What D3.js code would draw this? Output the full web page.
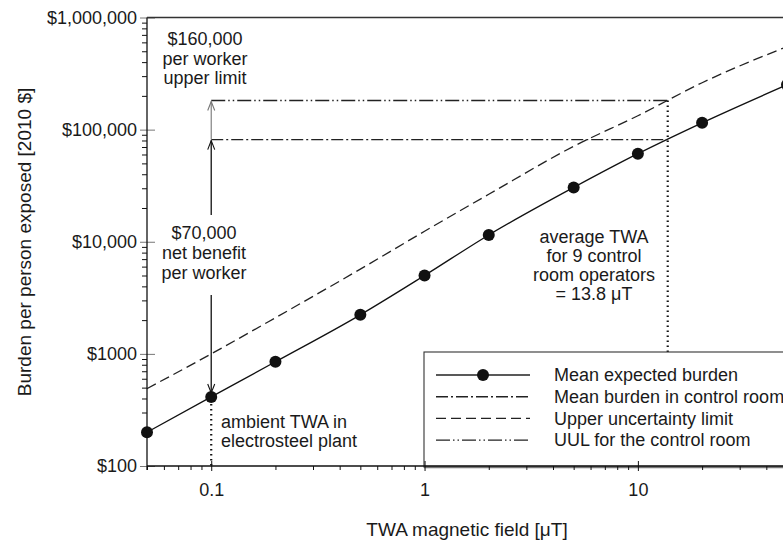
<!DOCTYPE html>
<html>
<head>
<meta charset="utf-8">
<script src="https://cdn.jsdelivr.net/npm/d3@7.9.0/dist/d3.min.js"></script>
<style>
  body { margin: 0; background: #fff; }
  svg { display: block; font-family: "Liberation Sans", Arial, sans-serif; }
  text { fill: #1a1a1a; }
</style>
</head>
<body>
<svg id="chart" width="783" height="545"></svg>
<script>
// TWA magnetic field values (uT) where the burden curves are marked
const fieldUT = [0.05, 0.1, 0.2, 0.5, 1, 2, 5, 10, 20, 50];
// mean expected burden per person exposed (2010 $)
const meanBurden = [200, 413, 850, 2230, 5000, 11500, 30500, 61000, 115000, 251000];
// upper uncertainty limit (2010 $)
const upperLimit = [490, 1000, 2100, 5700, 12400, 26500, 71000, 133000, 262000, 550000];

const ambientField = 0.1;       // ambient TWA in electrosteel plant
const controlRoomField = 13.8;  // average TWA for control room operators
const controlMean = 81500;      // mean burden in control room
const controlUUL = 182000;      // UUL for the control room

const yTickValues = [100, 1000, 10000, 100000, 1000000];
const yTickLabels = ["$100", "$1000", "$10,000", "$100,000", "$1,000,000"];
const xTickValues = [0.1, 1, 10];
const xTickLabels = ["0.1", "1", "10"];
const legendLabels = ["Mean expected burden", "Mean burden in control room",
                      "Upper uncertainty limit", "UUL for the control room"];

const svg = d3.select("#chart");
const FS = 18;

// plot frame
const plotLeft = 147, plotRight = 787, plotTop = 17.5, plotBottom = 466;
const x = d3.scaleLog().domain([0.05, 50]).range([plotLeft, plotRight]);
const y = d3.scaleLog().domain([100, 1000000]).range([plotBottom, plotTop]);

// dash styles
const dashUpper = "10,5";
const dashDot = "12,3,2,3";
const dashDotDot = "14,3,1.5,3,1.5,3";

// arrow markers
const defs = svg.append("defs");
function addMarker(id, color) {
  defs.append("marker")
    .attr("id", id)
    .attr("viewBox", "-10 -5 11 10")
    .attr("refX", 0).attr("refY", 0)
    .attr("markerWidth", 11).attr("markerHeight", 10)
    .attr("markerUnits", "userSpaceOnUse")
    .attr("orient", "auto-start-reverse")
    .append("path")
    .attr("d", "M-9,-3.5 L0,0 L-9,3.5")
    .attr("fill", "none")
    .attr("stroke", color)
    .attr("stroke-width", 1.1);
}
addMarker("arrowBlack", "#111");
addMarker("arrowGray", "#777");

const lineGen = d3.line()
  .x(d => x(d[0]))
  .y(d => y(d[1]))
  .curve(d3.curveMonotoneX);

const plot = svg.append("g");

// upper uncertainty limit
plot.append("path")
  .attr("d", lineGen(d3.zip(fieldUT, upperLimit)))
  .attr("fill", "none")
  .attr("stroke", "#222")
  .attr("stroke-width", 1.3)
  .attr("stroke-dasharray", dashUpper);

// mean expected burden
plot.append("path")
  .attr("d", lineGen(d3.zip(fieldUT, meanBurden)))
  .attr("fill", "none")
  .attr("stroke", "#111")
  .attr("stroke-width", 1.3);

plot.selectAll("circle.pt")
  .data(d3.zip(fieldUT, meanBurden))
  .join("circle")
  .attr("class", "pt")
  .attr("cx", d => x(d[0]))
  .attr("cy", d => y(d[1]))
  .attr("r", 6)
  .attr("fill", "#111");

// control room horizontal lines
plot.append("line")
  .attr("x1", x(ambientField)).attr("x2", x(controlRoomField))
  .attr("y1", y(controlUUL)).attr("y2", y(controlUUL))
  .attr("stroke", "#222").attr("stroke-width", 1.4)
  .attr("stroke-dasharray", dashDotDot);
plot.append("line")
  .attr("x1", x(ambientField)).attr("x2", x(controlRoomField))
  .attr("y1", y(controlMean)).attr("y2", y(controlMean))
  .attr("stroke", "#222").attr("stroke-width", 1.4)
  .attr("stroke-dasharray", dashDot);

// dotted verticals
plot.append("line")
  .attr("x1", x(controlRoomField)).attr("x2", x(controlRoomField))
  .attr("y1", y(controlUUL)).attr("y2", y(100))
  .attr("stroke", "#111").attr("stroke-width", 2.2)
  .attr("stroke-dasharray", "1.6,3.4");
plot.append("line")
  .attr("x1", x(ambientField)).attr("x2", x(ambientField))
  .attr("y1", y(meanBurden[1]) + 7).attr("y2", y(100))
  .attr("stroke", "#111").attr("stroke-width", 2.2)
  .attr("stroke-dasharray", "1.6,3.4");

// arrows at the ambient field
const ax = x(ambientField);
plot.append("line")
  .attr("x1", ax).attr("x2", ax)
  .attr("y1", y(controlMean)).attr("y2", y(controlUUL) + 1)
  .attr("stroke", "#777").attr("stroke-width", 1.1)
  .attr("marker-end", "url(#arrowGray)");
plot.append("line")
  .attr("x1", ax).attr("x2", ax)
  .attr("y1", y(controlMean) + 1).attr("y2", 215)
  .attr("stroke", "#111").attr("stroke-width", 1.3)
  .attr("marker-start", "url(#arrowBlack)");
plot.append("line")
  .attr("x1", ax).attr("x2", ax)
  .attr("y1", 295).attr("y2", y(meanBurden[1]) - 4)
  .attr("stroke", "#111").attr("stroke-width", 1.3)
  .attr("marker-end", "url(#arrowBlack)");

// annotations
function multiline(lines, cx, cy0, step, anchor) {
  const t = svg.append("text")
    .attr("text-anchor", anchor)
    .attr("font-size", FS);
  lines.forEach((s, i) => {
    t.append("tspan").attr("x", cx).attr("y", cy0 + i * step).attr("dy", "0.35em").text(s);
  });
}
multiline(["$160,000", "per worker", "upper limit"], 205, 39, 19.5, "middle");
multiline(["$70,000", "net benefit", "per worker"], 204, 233, 20, "middle");
multiline(["average TWA", "for 9 control", "room operators", "= 13.8 \u03BCT"], 594, 237, 19, "middle");
multiline(["ambient TWA in", "electrosteel plant"], 221, 422, 18.5, "start");

// legend
const lg = svg.append("g");
lg.append("rect")
  .attr("x", 424).attr("y", 352)
  .attr("width", 400).attr("height", plotBottom - 352 + 1)
  .attr("fill", "#fff")
  .attr("stroke", "#333").attr("stroke-width", 1.1);
lg.append("line")
  .attr("x1", 424).attr("x2", 790)
  .attr("y1", plotBottom + 1).attr("y2", plotBottom + 1)
  .attr("stroke", "#777").attr("stroke-width", 2.5);
const legendDash = [null, dashDot, dashUpper, dashDotDot];
legendLabels.forEach((lab, i) => {
  const ly = 375 + i * 21.7;
  lg.append("line")
    .attr("x1", 436).attr("x2", 530)
    .attr("y1", ly).attr("y2", ly)
    .attr("stroke", "#222").attr("stroke-width", 1.4)
    .attr("stroke-dasharray", legendDash[i]);
  if (i === 0) {
    lg.append("circle").attr("cx", 483).attr("cy", ly).attr("r", 6).attr("fill", "#111");
  }
  lg.append("text")
    .attr("x", 554).attr("y", ly).attr("dy", "0.35em")
    .attr("font-size", FS)
    .text(lab);
});

// axes
const minorY = y.ticks().filter(v => !yTickValues.includes(v));
const minorX = x.ticks().filter(v => !xTickValues.includes(v));

const gy = svg.append("g").attr("transform", `translate(${plotLeft},0)`);
gy.call(d3.axisLeft(y).tickValues(minorY).tickSize(5).tickFormat(""));
gy.append("g").call(d3.axisLeft(y).tickValues(yTickValues).tickSize(7).tickPadding(3)
  .tickFormat((d, i) => yTickLabels[i]));
gy.append("g").call(d3.axisRight(y).tickValues(yTickValues).tickSize(8).tickFormat(""));

const gx = svg.append("g").attr("transform", `translate(0,${plotBottom})`);
gx.call(d3.axisBottom(x).tickValues(minorX).tickSize(4).tickFormat(""));
gx.append("g").call(d3.axisBottom(x).tickValues(xTickValues).tickSize(5).tickPadding(12)
  .tickFormat((d, i) => xTickLabels[i]));
gx.append("g").call(d3.axisTop(x).tickValues(xTickValues).tickSize(5).tickFormat(""));

svg.selectAll(".domain").remove();
svg.selectAll(".tick text").attr("font-size", FS).attr("font-family", null).attr("fill", "#1a1a1a");
svg.selectAll(".tick line").attr("stroke", "#111");
gy.selectAll("g g .tick line").attr("stroke", "#777");

// frame lines
svg.append("line").attr("x1", plotLeft).attr("x2", plotLeft).attr("y1", plotTop).attr("y2", plotBottom + 4)
  .attr("stroke", "#111").attr("stroke-width", 1.3);
svg.append("line").attr("x1", plotLeft).attr("x2", plotRight).attr("y1", plotBottom).attr("y2", plotBottom)
  .attr("stroke", "#111").attr("stroke-width", 1.3);
svg.append("line").attr("x1", plotLeft).attr("x2", plotRight).attr("y1", plotTop).attr("y2", plotTop)
  .attr("stroke", "#333").attr("stroke-width", 1.3);

// axis titles
svg.append("text")
  .attr("x", 467).attr("y", 529).attr("dy", "0.35em")
  .attr("text-anchor", "middle")
  .attr("font-size", 19)
  .text("TWA magnetic field [\u03BCT]");
svg.append("text")
  .attr("transform", "translate(24,242) rotate(-90)")
  .attr("dy", "0.35em")
  .attr("text-anchor", "middle")
  .attr("font-size", 19)
  .text("Burden per person exposed [2010 $]");
</script>
</body>
</html>
